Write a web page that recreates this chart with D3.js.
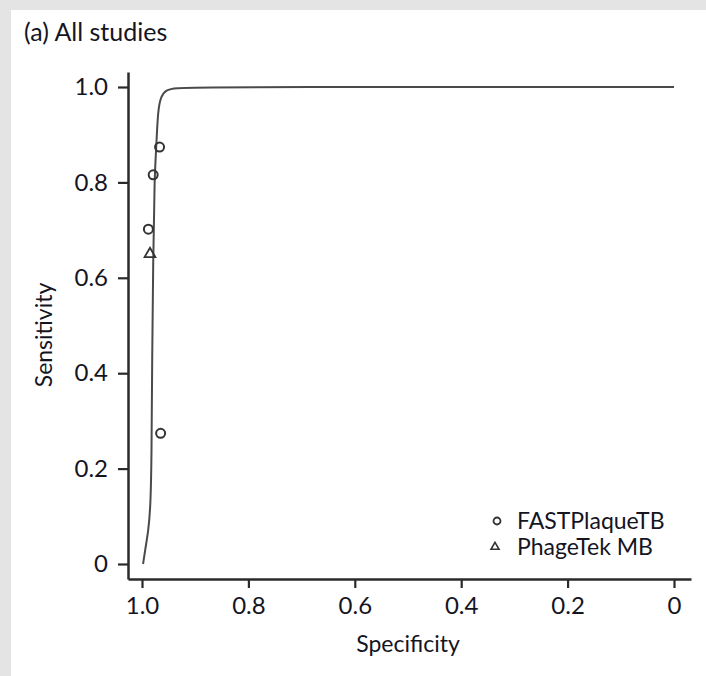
<!DOCTYPE html>
<html>
<head>
<meta charset="utf-8">
<script src="https://cdn.jsdelivr.net/npm/d3@7"></script>
<style>
  html, body { margin: 0; padding: 0; background: #e4e4e4; }
  svg { display: block; }
  text { font-family: Lato, "Open Sans", sans-serif; fill: #15151f; }
</style>
</head>
<body>
<svg id="chart" width="706" height="676"></svg>
<script>
// FASTPlaqueTB study estimates
const fastSpecificity = [0.967, 0.979, 0.988, 0.965];
const fastSensitivity = [0.874, 0.816, 0.702, 0.274];

// PhageTek MB study estimate
const phageSpecificity = [0.985];
const phageSensitivity = [0.65];

// Summary ROC curve
const srocSpecificity = [0.998, 0.994, 0.988, 0.984, 0.982, 0.981, 0.979, 0.9765, 0.9727, 0.970, 0.9643, 0.955, 0.938, 0.891, 0.70, 0.40, 0.0];
const srocSensitivity = [0.0, 0.03, 0.07, 0.12, 0.218, 0.428, 0.637, 0.815, 0.883, 0.952, 0.981, 0.994, 0.998, 0.999, 1.0, 1.0, 1.0];

// Axis ticks
const xTicks = [1.0, 0.8, 0.6, 0.4, 0.2, 0];
const xTickLabels = ["1.0", "0.8", "0.6", "0.4", "0.2", "0"];
const yTicks = [0, 0.2, 0.4, 0.6, 0.8, 1.0];
const yTickLabels = ["0", "0.2", "0.4", "0.6", "0.8", "1.0"];

const legendLabels = ["FASTPlaqueTB", "PhageTek MB"];

const svg = d3.select("#chart");

// white panel
svg.append("rect").attr("x", 11).attr("y", 10).attr("width", 706).attr("height", 676).attr("fill", "#fff");

svg.append("text").attr("x", 24).attr("y", 41)
  .style("font-size", "25px").text("(a) All studies");

const x = d3.scaleLinear().domain([1, 0]).range([142, 674]);
const y = d3.scaleLinear().domain([0, 1]).range([564, 87]);

// axis frame extends a little past the data range
const xAxisScale = x.copy().domain([x.invert(128), x.invert(691)]).range([128, 691]);
const yAxisScale = y.copy().domain([y.invert(579), y.invert(72)]).range([579, 72]);

const gx = svg.append("g").attr("transform", "translate(0,579)")
  .call(d3.axisBottom(xAxisScale).tickValues(xTicks).tickSize(9).tickSizeOuter(0).tickPadding(9)
    .tickFormat((d, i) => xTickLabels[i]));
const gy = svg.append("g").attr("transform", "translate(128,0)")
  .call(d3.axisLeft(yAxisScale).tickValues(yTicks).tickSize(10).tickSizeOuter(0).tickPadding(10)
    .tickFormat((d, i) => yTickLabels[i]));

[gx, gy].forEach(g => {
  g.select(".domain").attr("stroke", "#2a2a2a").attr("stroke-width", 2.5);
  g.selectAll(".tick line").attr("stroke", "#2a2a2a").attr("stroke-width", 2.2);
  g.selectAll(".tick text").attr("fill", "#15151f").style("font-size", "24px")
    .style("font-family", "Lato, 'Open Sans', sans-serif");
});

svg.append("text").attr("x", 408).attr("y", 652).attr("text-anchor", "middle")
  .style("font-size", "23px").text("Specificity");
svg.append("text").attr("transform", "translate(52,335) rotate(-90)").attr("text-anchor", "middle")
  .style("font-size", "23px").text("Sensitivity");

// SROC curve
const curvePts = srocSpecificity.map((s, i) => [s, srocSensitivity[i]]);
svg.append("path")
  .attr("d", d3.line().x(d => x(d[0])).y(d => y(d[1])).curve(d3.curveBasis)(curvePts))
  .attr("fill", "none").attr("stroke", "#4a4a4a").attr("stroke-width", 2);

// study points
svg.append("g").selectAll("circle").data(fastSpecificity).join("circle")
  .attr("cx", d => x(d)).attr("cy", (d, i) => y(fastSensitivity[i])).attr("r", 4.5)
  .attr("fill", "none").attr("stroke", "#333").attr("stroke-width", 2);

svg.append("g").selectAll("path").data(phageSpecificity).join("path")
  .attr("transform", (d, i) => `translate(${x(d)},${y(phageSensitivity[i])})`)
  .attr("d", d3.symbol(d3.symbolTriangle, 50))
  .attr("fill", "none").attr("stroke", "#333").attr("stroke-width", 1.8);

// legend
const legend = svg.append("g").attr("transform", "translate(497,521)");
legend.append("circle").attr("cx", 0).attr("cy", 0).attr("r", 3.5)
  .attr("fill", "none").attr("stroke", "#333").attr("stroke-width", 1.8);
legend.append("path").attr("transform", "translate(-2,26)").attr("d", d3.symbol(d3.symbolTriangle, 28))
  .attr("fill", "none").attr("stroke", "#333").attr("stroke-width", 1.6);
legend.selectAll("text").data(legendLabels).join("text")
  .attr("x", 20).attr("y", (d, i) => 8 + i * 26)
  .style("font-size", "23px").text(d => d);
</script>
</body>
</html>
